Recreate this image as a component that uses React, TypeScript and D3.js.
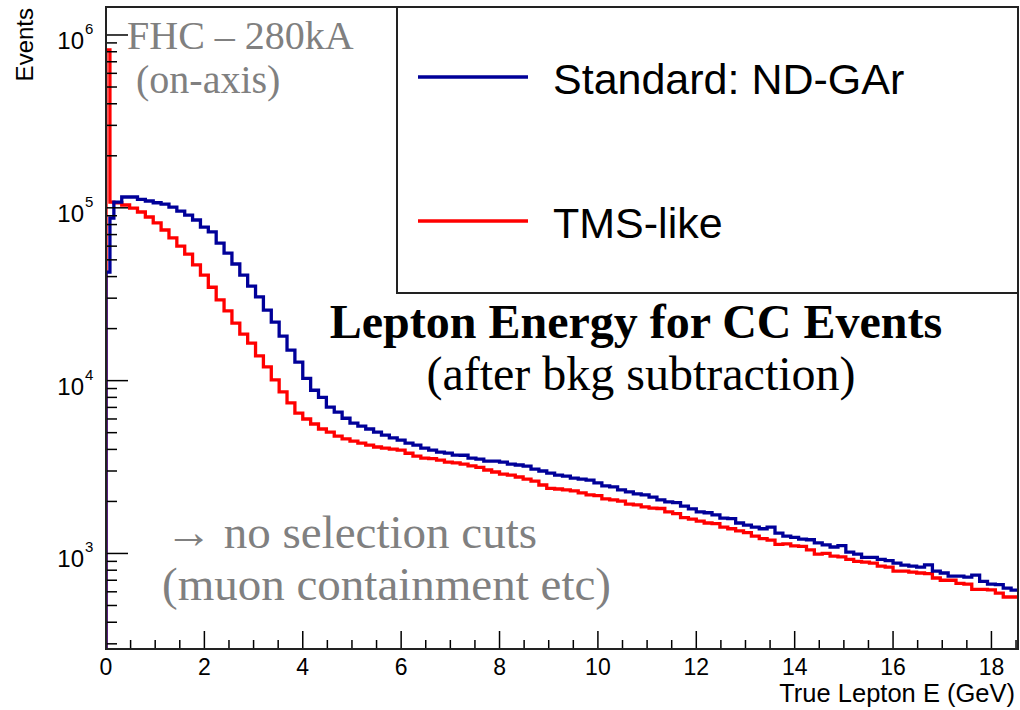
import React from "react";
import * as d3 from "d3";

// ---- data ----
const firstEdges = [0, 0.08, 0.16];
const binWidth = 0.16;
const nBins = 116;

const blueFirst = [42500, 87300];
const blueVals = [
  108000, 115500, 115500, 112000, 109500, 107000, 105000, 101000, 95800, 90700,
  85000, 77400, 72500, 62500, 54700, 47300, 40800, 35200, 30500, 25600,
  21800, 18100, 15000, 12800, 10300, 8800, 8000, 7030, 6570, 6060,
  5670, 5460, 5250, 5040, 4840, 4660, 4530, 4350, 4240, 4070,
  3960, 3860, 3810, 3710, 3700, 3560, 3510, 3420, 3420, 3380,
  3290, 3250, 3200, 3080, 3000, 2920, 2840, 2800, 2730, 2690,
  2660, 2560, 2460, 2430, 2330, 2270, 2210, 2180, 2120, 2040,
  1990, 1970, 1880, 1810, 1740, 1720, 1670, 1600, 1590, 1500,
  1460, 1420, 1390, 1420, 1310, 1260, 1240, 1210, 1200, 1150,
  1120, 1090, 1110, 1018, 990, 950, 950, 925, 910, 880,
  855, 845, 834, 860, 790, 771, 740, 740, 730, 750,
  690, 665, 660, 630, 614, 600,
];

const redFirst = [820000, 108000];
const redVals = [
  107000, 103800, 99700, 94600, 88500, 81900, 74400, 67000, 60100, 54000,
  46700, 40800, 34700, 29300, 25300, 21500, 18600, 16500, 13900, 12000,
  10100, 8600, 7440, 6490, 6000, 5610, 5250, 5040, 4770, 4600,
  4470, 4350, 4240, 4130, 4070, 4020, 3960, 3800, 3660, 3560,
  3540, 3470, 3380, 3340, 3290, 3210, 3150, 3040, 2960, 2880,
  2840, 2770, 2690, 2620, 2490, 2380, 2360, 2330, 2300, 2240,
  2180, 2160, 2070, 2040, 2010, 1930, 1910, 1860, 1830, 1820,
  1740, 1700, 1610, 1580, 1540, 1500, 1490, 1420, 1390, 1350,
  1320, 1260, 1220, 1195, 1130, 1135, 1105, 1100, 1050, 990,
  1000, 965, 955, 925, 900, 890, 880, 845, 834, 790,
  790, 780, 771, 765, 721, 700, 700, 672, 665, 620,
  620, 615, 590, 560, 560, 555,
];

const xTicks = [0, 2, 4, 6, 8, 10, 12, 14, 16, 18];
const yDecades = [3, 4, 5, 6];

const seriesNames = ["Standard: ND-GAr", "TMS-like"];
const seriesColors = ["#000099", "#ff0000"];

// ---- layout ----
const W = 1020;
const H = 710;
const L = 106, R = 1018, T = 7, B = 649;

const x = d3.scaleLinear().domain([0, 18.54]).range([L, R]);
const y = d3.scaleLog().domain([280, 1.452e6]).range([B, T]);

const edges = [
  ...firstEdges,
  ...d3.range(1, nBins + 1).map((i) => firstEdges[2] + i * binWidth),
];

function histPath(vals: number[]) {
  const ymin = y.domain()[0];
  const pts: [number, number][] = [[edges[0], ymin]];
  vals.forEach((v, i) => pts.push([edges[i], v]));
  pts.push([edges[vals.length], vals[vals.length - 1]]);
  const line = d3
    .line<[number, number]>()
    .x((d) => x(d[0]))
    .y((d) => y(Math.max(d[1], ymin)))
    .curve(d3.curveStepAfter);
  return line(pts) || "";
}

export default function App() {
  const blue = [...blueFirst, ...blueVals];
  const red = [...redFirst, ...redVals];

  const xMinor = d3.range(0, 18.55, 0.5).filter((v) => !xTicks.includes(v));
  const yMinor: number[] = [];
  for (let e = 2; e <= 6; e++) {
    for (let m = 2; m <= 9; m++) {
      const v = m * Math.pow(10, e);
      if (v >= y.domain()[0] && v <= y.domain()[1]) yMinor.push(v);
    }
  }

  const sans = "'Liberation Sans', Arial, sans-serif";
  const serif = "'Liberation Serif', 'Times New Roman', serif";

  return (
    <svg
      width={W}
      height={H}
      style={{ position: "absolute", left: 0, top: 0, background: "#fff" }}
    >
      <defs>
        <clipPath id="frame">
          <rect x={L} y={T} width={R - L} height={B - T} />
        </clipPath>
      </defs>
      <rect x={0} y={0} width={W} height={H} fill="#fff" />

      {/* histograms */}
      <g clipPath="url(#frame)">
        <path d={histPath(red)} fill="none" stroke={seriesColors[1]} strokeWidth={3.3} />
        <path d={histPath(blue)} fill="none" stroke={seriesColors[0]} strokeWidth={3.3} />
      </g>

      {/* x ticks */}
      {xTicks.map((t) => (
        <g key={"xt" + t}>
          <line x1={x(t)} x2={x(t)} y1={B} y2={B - 18} stroke="#000" strokeWidth={1.5} />
          <text x={x(t)} y={675} textAnchor="middle" fontFamily={sans} fontSize={23} fill="#000">
            {t}
          </text>
        </g>
      ))}
      {xMinor.map((t) => (
        <line key={"xm" + t} x1={x(t)} x2={x(t)} y1={B} y2={B - 9} stroke="#000" strokeWidth={1.5} />
      ))}

      {/* y ticks */}
      {yDecades.map((e) => {
        const yy = y(Math.pow(10, e));
        return (
          <g key={"yt" + e}>
            <line x1={L} x2={L + 22} y1={yy} y2={yy} stroke="#000" strokeWidth={1.5} />
            <text x={84} y={yy + 14} textAnchor="end" fontFamily={sans} fontSize={24} fill="#000">
              10
            </text>
            <text x={85} y={yy - 1} textAnchor="start" fontFamily={sans} fontSize={15} fill="#000">
              {e}
            </text>
          </g>
        );
      })}
      {yMinor.map((v) => (
        <line key={"ym" + v} x1={L} x2={L + 11} y1={y(v)} y2={y(v)} stroke="#000" strokeWidth={1.5} />
      ))}

      {/* frame */}
      <rect x={L} y={T} width={R - L} height={B - T} fill="none" stroke="#222" strokeWidth={2} />

      {/* axis titles */}
      <text
        transform="translate(33,8) rotate(-90)"
        textAnchor="end"
        fontFamily={sans}
        fontSize={24}
        fill="#000"
      >
        Events
      </text>
      <text x={1015} y={702} textAnchor="end" fontFamily={sans} fontSize={25.5} fill="#000">
        True Lepton E (GeV)
      </text>

      {/* legend */}
      <rect x={397} y={T} width={R - 397} height={293 - T} fill="#fff" stroke="#222" strokeWidth={2} />
      {seriesNames.map((name, i) => {
        const ly = i === 0 ? 77 : 221;
        return (
          <g key={name}>
            <line x1={418} x2={528} y1={ly} y2={ly} stroke={seriesColors[i]} strokeWidth={3.3} />
            <text x={553} y={ly + 17} fontFamily={sans} fontSize={43} fill="#000">
              {name}
            </text>
          </g>
        );
      })}

      {/* annotations */}
      <text x={127} y={49} fontFamily={serif} fontSize={40} fill="#808080">
        FHC – 280kA
      </text>
      <text x={136} y={93} fontFamily={serif} fontSize={40} fill="#808080">
        (on-axis)
      </text>
      <text x={636} y={338} textAnchor="middle" fontFamily={serif} fontWeight="bold" fontSize={48} fill="#000">
        Lepton Energy for CC Events
      </text>
      <text x={641} y={390} textAnchor="middle" fontFamily={serif} fontSize={48} fill="#000">
        (after bkg subtraction)
      </text>
      <text x={165} y={548} fontFamily={serif} fontSize={47} fill="#808080">
        → no selection cuts
      </text>
      <text x={162} y={600} fontFamily={serif} fontSize={47} fill="#808080">
        (muon containment etc)
      </text>
    </svg>
  );
}
